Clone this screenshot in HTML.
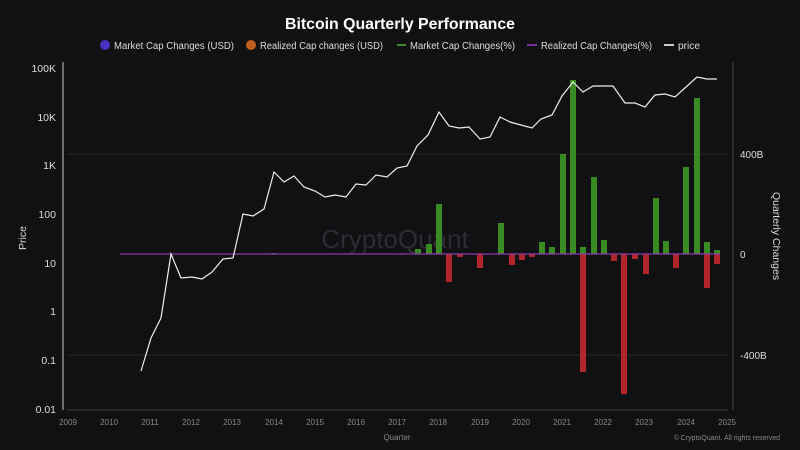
<!DOCTYPE html>
<html><head><meta charset="utf-8"><style>
body{margin:0;background:#111113;}
svg{display:block;font-family:"Liberation Sans",sans-serif;}
</style></head><body>
<svg width="800" height="450" viewBox="0 0 800 450">
<rect width="800" height="450" fill="#111113"/>
<text x="400" y="29" fill="#fff" font-size="16" font-weight="bold" text-anchor="middle" textLength="230" lengthAdjust="spacingAndGlyphs">Bitcoin Quarterly Performance</text>
<g font-size="10" fill="#ddd">
<circle cx="105" cy="45" r="5" fill="#4b2fc0"/><text x="114" y="49" textLength="120" lengthAdjust="spacingAndGlyphs">Market Cap Changes (USD)</text>
<circle cx="251" cy="45" r="5" fill="#c0601e"/><text x="260" y="49" textLength="123" lengthAdjust="spacingAndGlyphs">Realized Cap changes (USD)</text>
<line x1="397" y1="45" x2="406" y2="45" stroke="#3a8a2a" stroke-width="2"/><text x="410" y="49" textLength="105" lengthAdjust="spacingAndGlyphs">Market Cap Changes(%)</text>
<line x1="527" y1="45" x2="537" y2="45" stroke="#7a2a9a" stroke-width="2"/><text x="541" y="49" textLength="111" lengthAdjust="spacingAndGlyphs">Realized Cap Changes(%)</text>
<line x1="664" y1="45" x2="674" y2="45" stroke="#ccc" stroke-width="2"/><text x="678" y="49" textLength="22" lengthAdjust="spacingAndGlyphs">price</text>
</g>
<g stroke="#26262a" stroke-width="1">
<line x1="67" y1="154" x2="728" y2="154"/><line x1="67" y1="355" x2="728" y2="355"/>
</g>
<line x1="63" y1="62" x2="63" y2="410" stroke="#aaa" stroke-width="1.2"/>
<line x1="733" y1="62" x2="733" y2="410" stroke="#444" stroke-width="1"/>
<line x1="67" y1="410" x2="728" y2="410" stroke="#444" stroke-width="1"/>
<g font-size="10.5" fill="#ddd" text-anchor="end">
<text x="56" y="72">100K</text><text x="56" y="121">10K</text><text x="56" y="169">1K</text><text x="56" y="218">100</text><text x="56" y="267">10</text><text x="56" y="315">1</text><text x="56" y="364">0.1</text><text x="56" y="413">0.01</text>
</g>
<g font-size="10" fill="#ddd"><text x="740" y="158">400B</text><text x="740" y="258">0</text><text x="740" y="359">-400B</text></g>
<text transform="translate(26,238) rotate(-90)" font-size="10.5" fill="#ddd" text-anchor="middle">Price</text>
<text transform="translate(773,236) rotate(90)" font-size="10.5" fill="#ddd" text-anchor="middle">Quarterly Changes</text>
<text x="395" y="248" font-size="26" fill="#2c2c32" text-anchor="middle">CryptoQuant</text>
<g font-size="8" fill="#888" text-anchor="middle">
<text x="68" y="425">2009</text><text x="109" y="425">2010</text><text x="150" y="425">2011</text><text x="191" y="425">2012</text><text x="232" y="425">2013</text><text x="274" y="425">2014</text><text x="315" y="425">2015</text><text x="356" y="425">2016</text><text x="397" y="425">2017</text><text x="438" y="425">2018</text><text x="480" y="425">2019</text><text x="521" y="425">2020</text><text x="562" y="425">2021</text><text x="603" y="425">2022</text><text x="644" y="425">2023</text><text x="686" y="425">2024</text><text x="727" y="425">2025</text>
<text x="397" y="440">Quarter</text>
</g>
<text x="780" y="440" font-size="7" fill="#888" text-anchor="end">© CryptoQuant. All rights reserved</text>
<g fill="#3a8a22">
<rect x="415" y="249" width="6" height="5"/><rect x="426" y="244" width="6" height="10"/><rect x="436" y="204" width="6" height="50"/>
<rect x="498" y="223" width="6" height="31"/><rect x="539" y="242" width="6" height="12"/><rect x="549" y="247" width="6" height="7"/>
<rect x="560" y="154" width="6" height="100"/><rect x="570" y="80" width="6" height="174"/><rect x="580" y="247" width="6" height="7"/>
<rect x="591" y="177" width="6" height="77"/><rect x="601" y="240" width="6" height="14"/><rect x="653" y="198" width="6" height="56"/>
<rect x="663" y="241" width="6" height="13"/><rect x="683" y="167" width="6" height="87"/><rect x="694" y="98" width="6" height="156"/>
<rect x="704" y="242" width="6" height="12"/><rect x="714" y="250" width="6" height="4"/><rect x="271" y="253" width="5" height="1"/>
</g>
<g fill="#b0262a">
<rect x="446" y="254" width="6" height="28"/><rect x="457" y="254" width="6" height="3"/><rect x="477" y="254" width="6" height="14"/>
<rect x="509" y="254" width="6" height="11"/><rect x="519" y="254" width="6" height="6"/><rect x="529" y="254" width="6" height="3"/>
<rect x="580" y="254" width="6" height="118"/><rect x="611" y="254" width="6" height="7"/><rect x="621" y="254" width="6" height="140"/>
<rect x="632" y="254" width="6" height="5"/><rect x="643" y="254" width="6" height="20"/><rect x="673" y="254" width="6" height="14"/>
<rect x="704" y="254" width="6" height="34"/><rect x="714" y="254" width="6" height="10"/>
</g>
<line x1="120" y1="254" x2="720" y2="254" stroke="#8a3aa8" stroke-width="1.2"/>
<polyline fill="none" stroke="#eee" stroke-width="1.2" points="141,371 151,338 161,318 171,254 181,278 192,277 202,279 212,272 223,259 233,258 243,214 253,216 264,209 274,172 284,182 294,176 304,187 315,191 325,197 335,195 346,197 356,184 366,185 376,175 387,177 397,168 407,166 417,146 428,135 439,112 449,126 459,128 469,127 480,139 490,137 500,117 510,122 521,125 532,128 541,119 552,115 562,96 573,82 583,92 593,86 603,86 613,86 625,103 635,103 645,107 655,95 665,94 675,97 686,87 697,77 707,79 717,79"/>
</svg>
</body></html>
